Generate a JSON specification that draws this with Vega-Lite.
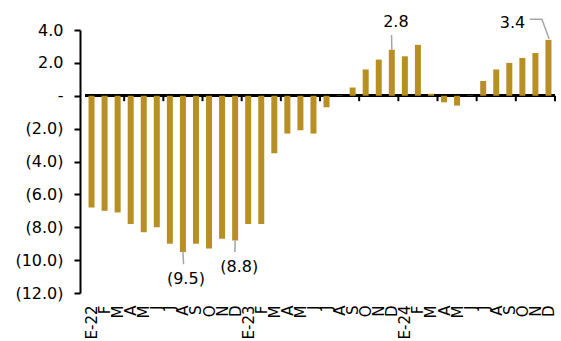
{
  "$schema": "https://vega.github.io/schema/vega-lite/v6.json",
  "width": 480,
  "height": 263,
  "autosize": {"type": "none"},
  "padding": {"left": 80, "top": 30, "right": 1, "bottom": 48},
  "background": "white",
  "config": {
    "view": {"stroke": null},
    "font": "DejaVu Sans",
    "axis": {"labelOverlap": false}
  },
  "datasets": {
    "bars": [
      {"i": 1, "v": -6.8}, {"i": 2, "v": -7.0}, {"i": 3, "v": -7.1}, {"i": 4, "v": -7.8},
      {"i": 5, "v": -8.3}, {"i": 6, "v": -8.0}, {"i": 7, "v": -9.0}, {"i": 8, "v": -9.5},
      {"i": 9, "v": -9.0}, {"i": 10, "v": -9.3}, {"i": 11, "v": -8.7}, {"i": 12, "v": -8.8},
      {"i": 13, "v": -7.8}, {"i": 14, "v": -7.8}, {"i": 15, "v": -3.5}, {"i": 16, "v": -2.3},
      {"i": 17, "v": -2.1}, {"i": 18, "v": -2.3}, {"i": 19, "v": -0.7}, {"i": 20, "v": 0.02},
      {"i": 21, "v": 0.5}, {"i": 22, "v": 1.6}, {"i": 23, "v": 2.2}, {"i": 24, "v": 2.8},
      {"i": 25, "v": 2.4}, {"i": 26, "v": 3.1}, {"i": 27, "v": 0.12}, {"i": 28, "v": -0.4},
      {"i": 29, "v": -0.6}, {"i": 30, "v": 0.02}, {"i": 31, "v": 0.9}, {"i": 32, "v": 1.6},
      {"i": 33, "v": 2.0}, {"i": 34, "v": 2.3}, {"i": 35, "v": 2.6}, {"i": 36, "v": 3.4}
    ],
    "xticks": [
      {"i": 3.5, "v": 0}, {"i": 6.5, "v": 0}, {"i": 9.5, "v": 0}, {"i": 12.5, "v": 0},
      {"i": 15.5, "v": 0}, {"i": 18.5, "v": 0}, {"i": 21.5, "v": 0}, {"i": 24.5, "v": 0},
      {"i": 27.5, "v": 0}, {"i": 30.5, "v": 0}, {"i": 33.5, "v": 0}, {"i": 36.5, "v": 0}
    ],
    "leaders": [
      {"g": "a", "o": 1, "i": 8, "v": -9.45}, {"g": "a", "o": 2, "i": 8.05, "v": -10.25},
      {"g": "b", "o": 1, "i": 12, "v": -8.8}, {"g": "b", "o": 2, "i": 11.98, "v": -9.5},
      {"g": "c", "o": 1, "i": 24, "v": 2.8}, {"g": "c", "o": 2, "i": 23.98, "v": 3.7},
      {"g": "d", "o": 1, "i": 34.57, "v": 4.65}, {"g": "d", "o": 2, "i": 35.5, "v": 4.65}, {"g": "d", "o": 3, "i": 36.05, "v": 3.45}
    ],
    "notes": [
      {"i": 8.23, "v": -11.12, "label": "(9.5)"},
      {"i": 12.31, "v": -10.42, "label": "(8.8)"},
      {"i": 24.31, "v": 4.47, "label": "2.8"},
      {"i": 33.25, "v": 4.45, "label": "3.4"}
    ]
  },
  "encoding": {
    "x": {
      "field": "i", "type": "quantitative",
      "scale": {"domain": [0.5, 36.5], "nice": false, "zero": false},
      "axis": {
        "title": null, "grid": false, "domain": false, "ticks": false,
        "values": [1,2,3,4,5,6,7,8,9,10,11,12,13,14,15,16,17,18,19,20,21,22,23,24,25,26,27,28,29,30,31,32,33,34,35,36],
        "labelExpr": "['ENE-22','F','M','A','M','J','J','A','S','O','N','D','ENE-23','F','M','A','M','J','J','A','S','O','N','D','ENE-24','F','M','A','M','J','J','A','S','O','N','D'][datum.value - 1]",
        "labelAngle": -90, "labelAlign": "right", "labelBaseline": "middle",
        "labelFontSize": 15, "labelColor": "#000000", "labelPadding": 12,
        "labelOverlap": false, "labelFlush": false, "labelBound": false
      }
    },
    "y": {
      "field": "v", "type": "quantitative",
      "scale": {"domain": [-12, 4], "nice": false, "zero": false},
      "axis": {
        "title": null, "grid": false,
        "values": [-12, -10, -8, -6, -4, -2, 0, 2, 4],
        "labelExpr": "datum.value == 0 ? '-\u2007\u2008\u2009' : (datum.value < 0 ? '(' + format(-datum.value, '.1f') + ')' : format(datum.value, '.1f') + '\u2008')",
        "labelFontSize": 16, "labelColor": "#000000", "labelPadding": 11,
        "domainColor": "#000000", "domainWidth": 2,
        "tickColor": "#000000", "tickWidth": 2, "tickSize": 6,
        "labelFlush": false, "labelOverlap": false
      }
    }
  },
  "layer": [
    {
      "data": {"name": "bars"},
      "mark": {"type": "rule", "color": "#000000", "strokeWidth": 1.8},
      "encoding": {"x": {"datum": 0.5}, "x2": {"datum": 36.5}, "y": {"datum": 0}}
    },
    {
      "data": {"name": "xticks"},
      "mark": {"type": "rule", "color": "#000000", "strokeWidth": 2},
      "encoding": {
        "y2": {"datum": -0.33}
      }
    },
    {
      "data": {"name": "bars"},
      "mark": {"type": "bar", "size": 6, "color": "#B78F23"}
    },
    {
      "data": {"name": "leaders"},
      "mark": {"type": "line", "color": "#A6A6A6", "strokeWidth": 1.5},
      "encoding": {
        "detail": {"field": "g"},
        "order": {"field": "o"}
      }
    },
    {
      "data": {"name": "notes"},
      "mark": {"type": "text", "fontSize": 16, "color": "#000000", "align": "center", "baseline": "middle"},
      "encoding": {
        "text": {"field": "label"}
      }
    }
  ]
}
